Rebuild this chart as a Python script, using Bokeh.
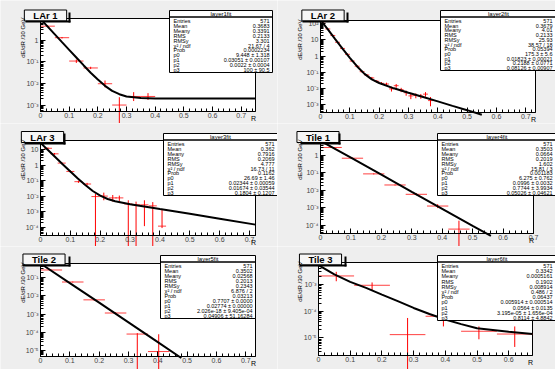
import math
from bokeh.plotting import figure
from bokeh.layouts import column, row
from bokeh.models import (Label, BoxAnnotation, Range1d, FixedTicker, AllLabels,
                          CustomJSTickFormatter)
from bokeh.embed import file_html
from bokeh.resources import INLINE

FONT = "Liberation Sans"
PAD_BG = "#eeeeee"
RED = "#ff0000"
H = 123

# ---------------- data: LAr 1 ----------------
lar1_x = [0.025, 0.075, 0.125, 0.175, 0.225, 0.275, 0.325, 0.375]
lar1_y = [4.4, 1.3, 0.11, 0.053, 0.010, 0.00105, 0.0026, 0.0026]
lar1_lo = [4.0, 1.2, 0.09, 0.047, 0.0068, 1e-9, 0.0016, 0.0018]
lar1_hi = [4.8, 1.4, 0.13, 0.060, 0.014, 0.0024, 0.0041, 0.0037]
lar1_bw = 0.05
lar1_fx = [0, 0.025, 0.05, 0.075, 0.1, 0.125, 0.15, 0.175, 0.2, 0.225, 0.25, 0.275, 0.3, 0.35, 0.4, 0.75]
lar1_fy = [9.45, 4.17, 1.84, 0.81, 0.36, 0.16, 0.071, 0.032, 0.0155, 0.008, 0.0047, 0.0033, 0.0026, 0.0022, 0.0021, 0.0021]
lar1_stats = [("Entries", "571"), ("Mean", "0.3683"), ("Meany", "0.3391"), ("RMS", "0.2133"),
              ("RMSy", "3.301"), ("χ² / ndf", "21.67 / 4"), ("Prob", "0.0002234"),
              ("p0", "9.448 ± 1.318"), ("p1", "0.03051 ± 0.00107"), ("p2", "0.0022 ± 0.0004"),
              ("p3", "100 ± 90.5")]

# ---------------- data: LAr 2 ----------------
lar2_x = [0.008, 0.025, 0.042, 0.058, 0.075, 0.092, 0.108, 0.125, 0.142, 0.158, 0.175, 0.192,
          0.208, 0.225, 0.242, 0.258, 0.275, 0.292, 0.308, 0.325, 0.342, 0.358, 0.375]
lar2_y = [110, 48, 19, 7.2, 3.0, 1.3, 0.5, 0.24, 0.11, 0.068, 0.045, 0.028,
          0.021, 0.019, 0.0095, 0.015, 0.0085, 0.0055, 0.0035, 0.0037, 0.0034, 0.0045, 0.0018]
lar2_lo = [100, 44, 17, 6.5, 2.7, 1.15, 0.44, 0.21, 0.095, 0.058, 0.038, 0.023,
           0.017, 0.015, 0.0065, 0.011, 0.0060, 0.0036, 0.0022, 0.0025, 0.0023, 0.0031, 0.0008]
lar2_hi = [120, 52, 21, 7.9, 3.3, 1.45, 0.56, 0.27, 0.125, 0.078, 0.052, 0.033,
           0.025, 0.023, 0.013, 0.019, 0.011, 0.0075, 0.0050, 0.0050, 0.0046, 0.0060, 0.0030]
lar2_bw = 0.0167
lar2_fx = [0.0016, 0.025, 0.05, 0.075, 0.1, 0.125, 0.15, 0.175, 0.2, 0.25, 0.3, 0.35, 0.4, 0.45, 0.5, 0.55]
lar2_fy = [160, 44.7, 11.4, 2.96, 0.79, 0.232, 0.080, 0.037, 0.022, 0.0103, 0.0055, 0.0030, 0.0016, 0.00085, 0.00046, 0.00024]
lar2_stats = [("Entries", "571"), ("Mean", "0.3679"), ("Meany", "4.01"), ("RMS", "0.2133"),
              ("RMSy", "25.93"), ("χ² / ndf", "38.57 / 18"), ("Prob", "0.05394"),
              ("p0", "175.3 ± 5.6"), ("p1", "0.01823 ± 0.00021"), ("p2", "0.2188 ± 0.0771"),
              ("p3", "0.08126 ± 0.00907")]

# ---------------- data: LAr 3 ----------------
lar3_x = [0.025, 0.047, 0.071, 0.1, 0.127, 0.156, 0.184, 0.212, 0.242, 0.264, 0.294, 0.32, 0.348, 0.376, 0.407]
lar3_y = [12, 5.3, 1.34, 0.39, 0.086, 0.061, 0.0095, 0.0102, 0.0078, 0.0078, 0.0032, 0.0028, 0.0028, 0.0024, 0.00012]
lar3_lo = [10.5, 4.6, 1.15, 0.33, 0.072, 0.050, 1e-9, 0.0055, 0.0045, 0.0050, 1e-9, 1e-9, 0.00012, 1e-9, 0.00009]
lar3_hi = [13.5, 6.0, 1.55, 0.45, 0.100, 0.072, 0.014, 0.017, 0.012, 0.011, 0.0055, 0.0045, 0.0055, 0.0042, 0.0013]
lar3_bw = 0.027
lar3_fx = [0, 0.025, 0.05, 0.075, 0.1, 0.125, 0.15, 0.175, 0.2, 0.225, 0.25, 0.3, 0.4, 0.5, 0.6, 0.72]
lar3_fy = [26.7, 9.2, 3.17, 1.10, 0.384, 0.137, 0.052, 0.0216, 0.0108, 0.0066, 0.0048, 0.0031, 0.0015, 0.00074, 0.00036, 0.00015]
lar3_stats = [("Entries", "571"), ("Mean", "0.362"), ("Meany", "0.7916"), ("RMS", "0.2069"),
              ("RMSy", "4.777"), ("χ² / ndf", "16.73 / 11"), ("Prob", "0.1162"),
              ("p0", "26.69 ± 1.46"), ("p1", "0.02344 ± 0.00059"), ("p2", "0.01674 ± 0.03544"),
              ("p3", "0.1804 ± 0.1207")]

# ---------------- data: Tile 1 ----------------
tile1_x = [0.035, 0.105, 0.175, 0.245, 0.315, 0.385, 0.455]
tile1_y = [2.9, 0.7, 0.088, 0.0203, 0.0059, 0.00125, 5.9e-5]
tile1_lo = [2.7, 0.65, 0.082, 0.019, 0.0051, 0.00095, 1e-9]
tile1_hi = [3.1, 0.75, 0.094, 0.0216, 0.0068, 0.0016, 1.8e-4]
tile1_bw = 0.07
tile1_fx = [0, 0.1, 0.2, 0.3, 0.4, 0.5, 0.56]
tile1_fy = [7.0, 0.75, 0.080, 0.0081, 0.00085, 9.0e-5, 2.4e-5]
tile1_stats = [("Entries", "571"), ("Mean", "0.3503"), ("Meany", "0.0664"), ("RMS", "0.2019"),
               ("RMSy", "1.602"), ("χ² / ndf", "15.81 / 3"), ("Prob", "0.001183"),
               ("p0", "6.275 ± 0.762"), ("p1", "0.0996 ± 0.0032"), ("p2", "0.7744 ± 3.9934"),
               ("p3", "0.05026 ± 0.04621")]

# ---------------- data: Tile 2 ----------------
tile2_x = [0.037, 0.11, 0.183, 0.256, 0.33, 0.403]
tile2_y = [0.26, 0.057, 0.006, 0.00114, 8e-5, 8.8e-6]
tile2_lo = [0.25, 0.054, 0.0055, 0.00105, 1e-9, 1e-9]
tile2_hi = [0.27, 0.060, 0.0065, 0.00124, 9e-5, 7.8e-5]
tile2_bw = 0.0733
tile2_fx = [0, 0.1, 0.2, 0.3, 0.4, 0.48]
tile2_fy = [0.59, 0.05, 0.0042, 0.00035, 2.9e-5, 3.9e-6]
tile2_stats = [("Entries", "571"), ("Mean", "0.3502"), ("Meany", "0.02568"), ("RMS", "0.2013"),
               ("RMSy", "0.2343"), ("χ² / ndf", "6.876 / 2"), ("Prob", "0.03213"),
               ("p0", "0.7707 ± 0.0000"), ("p1", "0.02774 ± 0.00000"), ("p2", "2.026e-18 ± 9.405e-04"),
               ("p3", "0.04906 ± 51.16284")]

# ---------------- data: Tile 3 ----------------
tile3_x = [0.056, 0.169, 0.281, 0.394, 0.506, 0.619]
tile3_y = [2.1e-3, 9.4e-4, 1.33e-5, 6.5e-5, 1.78e-5, 1.4e-5]
tile3_lo = [1.33e-3, 6.1e-4, 1e-9, 2.7e-5, 8.9e-6, 4.6e-6]
tile3_hi = [3.0e-3, 1.2e-3, 5.6e-5, 8.7e-5, 2.7e-5, 2.7e-5]
tile3_bw = 0.1125
tile3_fx = [0, 0.05, 0.1, 0.15, 0.2, 0.25, 0.3, 0.35, 0.4, 0.45, 0.5, 0.6, 0.675]
tile3_fy = [5.3e-3, 2.4e-3, 1.26e-3, 7.5e-4, 4.2e-4, 2.4e-4, 1.33e-4, 7.9e-5, 4.9e-5, 3.3e-5, 2.3e-5, 1.7e-5, 1.4e-5]
tile3_stats = [("Entries", "571"), ("Mean", "0.3342"), ("Meany", "0.0005161"), ("RMS", "0.1902"),
               ("RMSy", "0.008914"), ("χ² / ndf", "0.486 / 2"), ("Prob", "0.06437"),
               ("p0", "0.005914 ± 0.000514"), ("p1", "0.0564 ± 0.0135"), ("p2", "3.195e-05 ± 1.656e-04"),
               ("p3", "0.8114 ± 4.8842")]

X_TICKS = [0.0, 0.1, 0.2, 0.3, 0.4, 0.5, 0.6, 0.7]
Y_TITLE = "dE/dR /30 GeV"
X_TITLE = "R"

XFMT = "return Math.abs(tick) < 1e-9 ? '0' : tick.toFixed(1);"
YFMT = """
const e = Math.round(Math.log10(tick));
if (e === 0) return '1';
if (e === 1) return '10';
const s = {'-':'⁻','0':'⁰','1':'¹','2':'²','3':'³','4':'⁴','5':'⁵','6':'⁶','7':'⁷','8':'⁸','9':'⁹'};
return '10' + String(e).split('').map(c => s[c]).join('');
"""


def cbox(l, r, t, b, **kw):
    return BoxAnnotation(left=l, right=r, top=t, bottom=b,
                         left_units="canvas", right_units="canvas",
                         top_units="canvas", bottom_units="canvas", **kw)


def ctext(x, y, text, size, align="left", bold=False, angle=0, baseline="middle", **kw):
    return Label(x=x, y=y, x_units="canvas", y_units="canvas", text=text,
                 text_font=FONT, text_font_size=size, text_align=align,
                 text_baseline=baseline, text_font_style="bold" if bold else "normal",
                 angle=angle, angle_units="deg", **kw)


def panel(width, frame, xmax, ylim, px, py, plo, phi, bw, fx, fy,
          title, tbox, sname, srows, sbox):
    L, R, T, B = frame              # true frame margins in pixels
    ymin, ytop = ylim
    s = xmax / (width - L - R)
    xr = (-L * s, xmax + R * s)
    g = (math.log10(ytop) - math.log10(ymin)) / (H - T - B)
    yr = (10 ** (math.log10(ymin) - B * g), 10 ** (math.log10(ytop) + T * g))

    p = figure(width=width, height=H, x_range=Range1d(*xr), y_range=Range1d(*yr),
               y_axis_type="log", output_backend="svg", toolbar_location=None,
               min_border=0, min_border_left=0, min_border_right=0,
               min_border_top=0, min_border_bottom=0)
    p.title.visible = False
    p.border_fill_color = PAD_BG
    p.background_fill_color = PAD_BG
    p.outline_line_color = None
    p.grid.visible = False

    # true frame (white area with black outline)
    p.add_layout(BoxAnnotation(left=0, right=xmax, bottom=ymin, top=ytop,
                               fill_color="white", fill_alpha=1, line_color="black",
                               line_alpha=1, line_width=1, level="underlay"))

    xa = p.xaxis[0]
    ya = p.yaxis[0]
    xa.fixed_location = ymin
    ya.fixed_location = 0
    xa.bounds = (-1e-6, xmax)
    ya.bounds = (ymin, ytop)
    xt = [t for t in X_TICKS if t <= xmax + 1e-9]
    xa.ticker = FixedTicker(ticks=xt,
                            minor_ticks=[round(0.02 * i, 2) for i in range(0, 40) if 0.02 * i <= xmax])
    xa.formatter = CustomJSTickFormatter(code=XFMT)
    e0 = math.floor(math.log10(ymin))
    e1 = math.ceil(math.log10(ytop))
    ymaj = [10.0 ** e for e in range(e0, e1 + 1) if ymin <= 10.0 ** e <= ytop]
    ymin_t = [k * 10.0 ** e for e in range(e0, e1 + 1) for k in range(2, 10)
              if ymin <= k * 10.0 ** e <= ytop]
    ya.ticker = FixedTicker(ticks=ymaj, minor_ticks=ymin_t)
    ya.formatter = CustomJSTickFormatter(code=YFMT)
    for ax in (xa, ya):
        ax.major_tick_in = 5
        ax.major_tick_out = 0
        ax.minor_tick_in = 3
        ax.minor_tick_out = 0
        ax.major_label_text_font = FONT
        ax.major_label_text_font_size = "7px"
        ax.major_label_standoff = 2
        ax.axis_line_color = "black"
        ax.major_label_policy = AllLabels()
    xa.major_label_standoff = 1

    # histogram points
    p.segment(x0=[x - bw / 2 for x in px], x1=[x + bw / 2 for x in px], y0=py, y1=py,
              line_color=RED, line_width=1, line_alpha=0.75)
    p.segment(x0=px, x1=px, y0=plo, y1=phi, line_color=RED, line_width=1)
    # fit curve
    p.line(fx, fy, line_color="black", line_width=2)

    # title box (label with its own box) and a shadow on right / bottom
    tl, tt, tr, tb = tbox
    cx, cy = (tl + tr) / 2, (tt + tb) / 2 + 0.5
    p.add_layout(ctext(cx, cy, title, "9.5px", align="center", bold=True,
                       text_color="black", background_fill_color="#f6f6f6", background_fill_alpha=1,
                       border_line_color="black", border_line_alpha=1, border_line_width=1,
                       padding=(9, 0)))
    p.add_layout(cbox(tr + 1, tr + 3, tt + 2, tb + 3, fill_color="black", fill_alpha=1,
                      line_alpha=0))
    p.add_layout(cbox(tl + 2, tr + 3, tb + 1, tb + 3, fill_color="black", fill_alpha=1,
                      line_alpha=0))

    # stats box
    sl, st, sr, sb = sbox
    p.add_layout(cbox(sl, sr, st, sb, fill_color="white", fill_alpha=1,
                      line_color="black", line_alpha=1, line_width=1))
    p.add_layout(cbox(sl, sr, st + 6.5, st + 6.5, fill_alpha=0, line_color="black",
                      line_alpha=1, line_width=1))
    p.add_layout(ctext((sl + sr) / 2, st + 3.5, sname, "6px", align="center", text_color="black"))
    n = len(srows)
    step = (sb - st - 8) / n
    for i, (k, v) in enumerate(srows):
        yy = st + 8 + step * (i + 0.5)
        p.add_layout(ctext(sl + 4, yy, k, "5.5px", align="left", text_color="black"))
        p.add_layout(ctext(min(sr, width) - 3, yy, v, "5.5px", align="right", text_color="black"))

    # axis titles
    p.add_layout(ctext(22, T - 1, Y_TITLE, "6px", align="right", angle=90, text_color="black"))
    p.add_layout(ctext(width - R - 2, H - B + 7, X_TITLE, "7px", align="center", text_color="black"))
    return p


p1 = panel(277, (40, 22, 18, 12), 0.75, (5.3e-4, 9.9),
           lar1_x, lar1_y, lar1_lo, lar1_hi, lar1_bw, lar1_fx, lar1_fy,
           "LAr 1", (23, 10, 67, 19), "layer1fit", lar1_stats, (169, 10, 272, 72))
p2 = panel(278, (43, 20, 20, 11), 0.733, (3.3e-4, 160),
           lar2_x, lar2_y, lar2_lo, lar2_hi, lar2_bw, lar2_fx, lar2_fy,
           "LAr 2", (23, 10, 68, 19), "layer2fit", lar2_stats, (163, 10, 279, 70))
p3 = panel(277, (40, 22, 17, 11), 0.72, (3.0e-5, 38),
           lar3_x, lar3_y, lar3_lo, lar3_hi, lar3_bw, lar3_fx, lar3_fy,
           "LAr 3", (22, 8, 62, 18), "layer3fit", lar3_stats, (163, 10, 277, 72))
p4 = panel(278, (43, 22, 17, 13), 0.7, (3.3e-5, 7.3),
           tile1_x, tile1_y, tile1_lo, tile1_hi, tile1_bw, tile1_fx, tile1_fy,
           "Tile 1", (21, 8, 60, 18), "layer4fit", tile1_stats, (160, 10, 279, 72))
p5 = panel(277, (40, 22, 17, 13), 0.733, (4.7e-6, 0.59),
           tile2_x, tile2_y, tile2_lo, tile2_hi, tile2_bw, tile2_fx, tile2_fy,
           "Tile 2", (20, 8, 67, 17), "layer5fit", tile2_stats, (160, 9, 255, 72))
p6 = panel(278, (41, 23, 16, 14), 0.675, (2.2e-6, 6.7e-3),
           tile3_x, tile3_y, tile3_lo, tile3_hi, tile3_bw, tile3_fx, tile3_fy,
           "Tile 3", (20, 8, 66, 17), "layer6fit", tile3_stats, (160, 9, 279, 74))

layout = column(row(p1, p2), row(p3, p4), row(p5, p6))
open("out.html", "w").write(file_html(layout, INLINE, "layers"))
